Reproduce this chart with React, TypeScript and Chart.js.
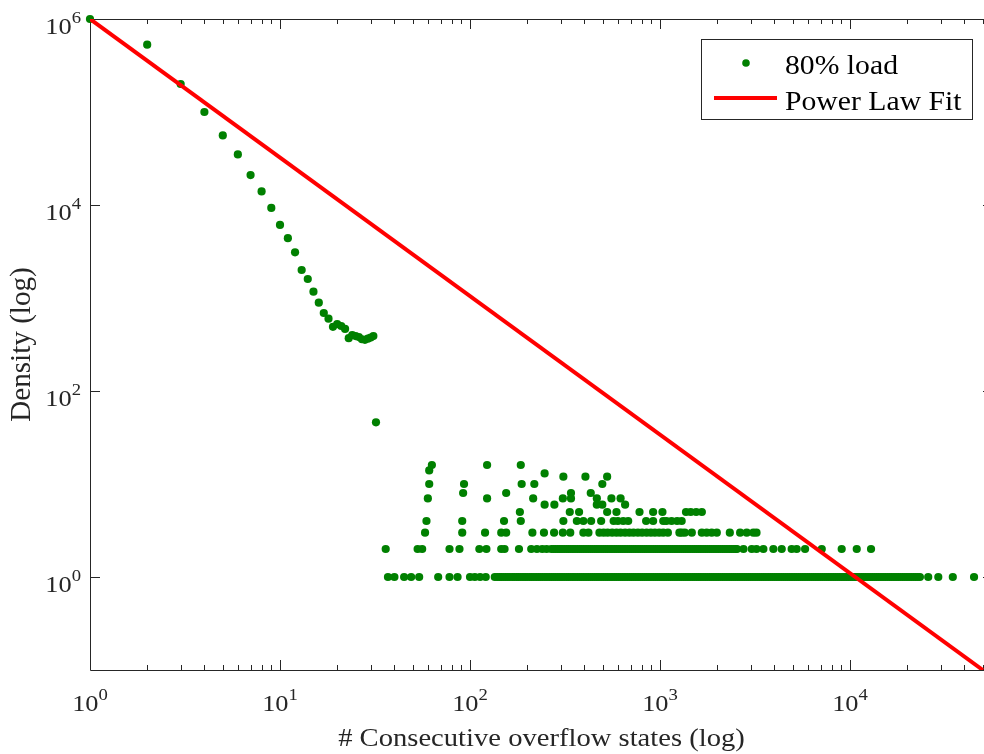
import React, { useEffect, useRef } from "react";
import { Chart, registerables } from "chart.js";

Chart.register(...registerables);

// ---- Data ----
const headRunLength = [1, 2, 3, 4, 5, 6, 7, 8, 9, 10, 11, 12, 13, 14, 15, 16, 17, 18, 19, 20, 21, 22, 23, 24, 25, 26, 27, 28, 29, 30, 31, 32];
const headDensity = [1e6, 5.3e5, 2.0e5, 1.0e5, 5.6e4, 3.5e4, 2.1e4, 1.4e4, 9.3e3, 6.1e3, 4.4e3, 3.1e3, 2.0e3, 1.6e3, 1170, 890, 690, 600, 490, 525, 500, 465, 370, 400, 390, 380, 360, 355, 365, 375, 390, 46];

// run lengths observed with density 1
const density1RunLength = [37, 40, 45, 49, 54, 68, 78, 86, 100, 106, 113, 121,
  135, 139, 143, 146, 150, 154, 158, 162, 167, 171, 176, 180, 185, 190, 195, 200, 206, 211, 217, 223, 229, 235, 241, 248, 254, 261, 268, 275, 282, 290, 297, 305, 313, 322, 330, 339, 348, 357, 367, 377, 387, 397,
  408, 419, 430, 441, 453, 465, 477, 490, 503, 517, 530, 545, 559, 574, 589, 605, 621, 637, 654, 672, 690, 708, 727, 746, 766, 787, 807, 829, 851, 874, 897, 921, 945, 970, 996,
  1023, 1050, 1078, 1107, 1136, 1166, 1197, 1229, 1262, 1296, 1330, 1365, 1402, 1439, 1478, 1517, 1557, 1599, 1641, 1685, 1730, 1776, 1824, 1872, 1922, 1973, 2025, 2079, 2135, 2191, 2250, 2310, 2371, 2434, 2499,
  2566, 2634, 2704, 2776, 2850, 2926, 3004, 3084, 3166, 3250, 3337, 3426, 3517, 3611, 3707, 3806, 3907, 4011, 4118, 4228, 4340, 4456, 4574, 4696, 4821, 4950, 5081, 5217, 5355, 5498, 5644, 5795, 5949, 6108, 6270,
  6437, 6608, 6784, 6965, 7150, 7340, 7536, 7736, 7942, 8154, 8371, 8594, 8823, 9057, 9298, 9546, 9800, 10061, 10329, 10604, 10886, 11176, 11473, 11779, 12093, 12415, 12745, 13085, 13433, 13791, 14158, 14535,
  14922, 15319, 15727, 16146, 16575, 17017, 17470, 17935, 18412, 18903, 19406, 19923, 20453, 20998, 21557, 22131, 22720, 23325, 25800, 29150, 34750, 44950];
// density 2
const density2RunLength = [36, 53, 56, 78, 88, 112, 122, 146, 152, 181, 210, 225, 240, 253,
  268, 275, 282, 290, 297, 305, 313, 322, 330, 339, 348, 357, 367, 377, 387, 397, 408, 419, 430, 441, 453, 465, 477, 490, 503, 517, 530, 545, 559, 574, 589, 605, 621, 637, 654, 672, 690, 708, 727, 746, 766, 787,
  807, 829, 851, 874, 897, 921, 945, 970, 996, 1023, 1050, 1078, 1107, 1136, 1166, 1197, 1229, 1262, 1296, 1330, 1365, 1402, 1439, 1478, 1517, 1557, 1599, 1641, 1685, 1730, 1776, 1824, 1872, 1922, 1973, 2025,
  2079, 2135, 2191, 2250, 2310, 2371, 2434, 2499, 2540,
  2750, 3040, 3220, 3500, 3950, 4370, 4930, 5240, 5800, 7100, 9040, 10850, 12900];
// density 3
const density3RunLength = [58, 91, 120, 146, 155, 213, 245, 277, 308, 337, 395, 420, 480, 505, 530, 560, 590, 620, 655, 690, 725, 765, 805, 850, 895, 940, 990, 1040, 1100, 1265, 1300, 1350, 1470, 1660, 1760, 1870, 1990, 2330, 2640, 2860, 3100, 3220];
const density4RunLength = [59, 91, 151, 185, 310, 365, 395, 434, 490, 570, 600, 640, 680, 845, 920, 1040, 1080, 1150, 1230, 1300];
const density5RunLength = [183, 335, 375, 527, 590, 780, 920, 1030, 1370, 1450, 1550, 1660];
const density6RunLength = [247, 278, 465, 497, 655];
const density7RunLength = [60, 123, 215, 308, 340, 465, 555, 620];
const density8RunLength = [92, 155, 340, 432];
const density10RunLength = [61, 93, 187, 218, 497];
const density12RunLength = [310, 405, 527];
const density13RunLength = [247];
const density14RunLength = [61];
const density16RunLength = [63, 123, 185];

const tailLevels = [1, 2, 3, 4, 5, 6, 7, 8, 10, 12, 13, 14, 16];
const tailRunLengths = [density1RunLength, density2RunLength, density3RunLength, density4RunLength, density5RunLength, density6RunLength, density7RunLength, density8RunLength, density10RunLength, density12RunLength, density13RunLength, density14RunLength, density16RunLength];

// power-law fit line end points
const fitRunLength = [1, 50000];
const fitDensity = [1e6, 0.1];

const seriesLabels = ["80% load", "Power Law Fit"];
const xAxisTitle = "# Consecutive overflow states (log)";
const yAxisTitle = "Density (log)";

const xMajorTicks = [1, 10, 100, 1000, 10000];
const xMajorExponents = ["0", "1", "2", "3", "4"];
const yMajorTicks = [1, 100, 1e4, 1e6];
const yMajorExponents = ["0", "2", "4", "6"];
const minorMultipliers = [2, 3, 4, 5, 6, 7, 8, 9];

const X_MIN = 1;
const X_MAX = 56560;
const Y_MIN = 0.1;
const Y_MAX = 1e6;

const GREEN = "#008000";
const RED = "#ff0000";
const AXIS = "#262626";
const FONT = '"Liberation Serif", "Times New Roman", serif';
const SX = 1.1; // horizontal stretch of text in reference

function drawText(ctx: CanvasRenderingContext2D, text: string, x: number, y: number, size: number, align: "left" | "center" | "right", color = AXIS) {
  ctx.save();
  ctx.font = `${size}px ${FONT}`;
  const w = ctx.measureText(text).width * SX;
  const x0 = align === "left" ? x : align === "center" ? x - w / 2 : x - w;
  ctx.translate(x0, y);
  ctx.scale(SX, 1);
  ctx.fillStyle = color;
  ctx.textAlign = "left";
  ctx.textBaseline = "alphabetic";
  ctx.fillText(text, 0, 0);
  ctx.restore();
  return w;
}

function measure(ctx: CanvasRenderingContext2D, text: string, size: number) {
  ctx.save();
  ctx.font = `${size}px ${FONT}`;
  const w = ctx.measureText(text).width * SX;
  ctx.restore();
  return w;
}

const MAIN = 24;
const SUP = 17;
const RAISE = 11;

function drawPow(ctx: CanvasRenderingContext2D, exp: string, x: number, baseline: number, align: "center" | "right") {
  const w1 = measure(ctx, "10", MAIN);
  const w2 = measure(ctx, exp, SUP);
  const total = w1 + w2;
  const x0 = align === "center" ? x - total / 2 : x - total;
  drawText(ctx, "10", x0, baseline, MAIN, "left");
  drawText(ctx, exp, x0 + w1, baseline - RAISE, SUP, "left");
}

const matlabAxes = {
  id: "matlabAxes",
  beforeDatasetsDraw(chart: any) {
    const { ctx, chartArea } = chart;
    const xs = chart.scales.x;
    const ys = chart.scales.y;
    const { left, right, top, bottom } = chartArea;
    ctx.save();
    ctx.strokeStyle = AXIS;
    ctx.lineWidth = 1;
    ctx.beginPath();
    ctx.rect(Math.round(left) + 0.5, Math.round(top) + 0.5, Math.round(right - left), Math.round(bottom - top));
    ctx.stroke();
    // x ticks (bottom & top, inward)
    const xTicks: [number, number][] = [];
    xMajorTicks.forEach((v) => xTicks.push([v, 10]));
    xMajorTicks.forEach((d) => minorMultipliers.forEach((m) => { if (d * m <= X_MAX) xTicks.push([d * m, 5]); }));
    ctx.beginPath();
    xTicks.forEach(([v, len]) => {
      const px = Math.round(xs.getPixelForValue(v)) + 0.5;
      ctx.moveTo(px, bottom);
      ctx.lineTo(px, bottom - len);
      ctx.moveTo(px, top);
      ctx.lineTo(px, top + len);
    });
    yMajorTicks.forEach((v) => {
      const py = Math.round(ys.getPixelForValue(v)) + 0.5;
      ctx.moveTo(left, py);
      ctx.lineTo(left + 10, py);
      ctx.moveTo(right, py);
      ctx.lineTo(right - 10, py);
    });
    ctx.stroke();
    ctx.restore();
  },
  afterDraw(chart: any) {
    const { ctx, chartArea } = chart;
    const xs = chart.scales.x;
    const ys = chart.scales.y;
    const { left, right, top, bottom } = chartArea;
    ctx.save();
    xMajorTicks.forEach((v, i) => drawPow(ctx, xMajorExponents[i], xs.getPixelForValue(v), bottom + 41, "center"));
    yMajorTicks.forEach((v, i) => drawPow(ctx, yMajorExponents[i], left - 9, ys.getPixelForValue(v) + 15, "right"));
    // axis titles
    drawText(ctx, xAxisTitle, (left + right) / 2, 746, 26, "center");
    ctx.save();
    ctx.translate(30, (top + bottom) / 2);
    ctx.scale(SX, 1);
    ctx.rotate(-Math.PI / 2);
    ctx.scale(1.12, 1);
    ctx.font = `26px ${FONT}`;
    ctx.fillStyle = AXIS;
    ctx.textAlign = "center";
    ctx.textBaseline = "alphabetic";
    ctx.fillText(yAxisTitle, 0, 0);
    ctx.restore();

    // legend
    const bx = 701, by = 39, bw = 271, bh = 80;
    ctx.fillStyle = "#ffffff";
    ctx.fillRect(bx, by, bw, bh);
    ctx.strokeStyle = AXIS;
    ctx.lineWidth = 1;
    ctx.strokeRect(bx + 0.5, by + 0.5, bw, bh);
    const ds0 = chart.data.datasets[0];
    const ds1 = chart.data.datasets[1];
    ctx.fillStyle = ds0.backgroundColor;
    ctx.beginPath();
    ctx.arc(746, 63, 3.8, 0, Math.PI * 2);
    ctx.fill();
    drawText(ctx, ds0.label, 785, 74, 27, "left", "#000000");
    ctx.strokeStyle = ds1.borderColor;
    ctx.lineWidth = 4;
    ctx.beginPath();
    ctx.moveTo(714, 98);
    ctx.lineTo(777, 98);
    ctx.stroke();
    drawText(ctx, ds1.label, 785, 110, 27, "left", "#000000");
    ctx.restore();
  },
};

export default function App() {
  const ref = useRef<HTMLCanvasElement | null>(null);
  useEffect(() => {
    document.body.style.margin = "0";
    const canvas = ref.current;
    if (!canvas) return;
    const points: { x: number; y: number }[] = headRunLength.map((x, i) => ({ x, y: headDensity[i] }));
    tailLevels.forEach((lvl, i) => tailRunLengths[i].forEach((x) => points.push({ x, y: lvl })));
    const fit = fitRunLength.map((x, i) => ({ x, y: fitDensity[i] }));
    const chart = new Chart(canvas, {
      type: "scatter",
      data: {
        datasets: [
          {
            label: seriesLabels[0],
            data: points,
            backgroundColor: GREEN,
            borderWidth: 0,
            pointRadius: 4.1,
            pointHoverRadius: 4.1,
            clip: false as any,
            order: 1,
          },
          {
            label: seriesLabels[1],
            data: fit,
            showLine: true,
            borderColor: RED,
            backgroundColor: RED,
            borderWidth: 4,
            pointRadius: 0,
            order: 0,
          } as any,
        ],
      },
      options: {
        animation: false,
        responsive: false,
        devicePixelRatio: 1,
        layout: { padding: { left: 90, top: 19, right: 10, bottom: 84 } },
        plugins: { legend: { display: false }, tooltip: { enabled: false } },
        events: [],
        scales: {
          x: { type: "logarithmic", min: X_MIN, max: X_MAX, display: false },
          y: { type: "logarithmic", min: Y_MIN, max: Y_MAX, display: false },
        },
      },
      plugins: [matlabAxes],
    });
    return () => chart.destroy();
  }, []);
  return (
    <div style={{ width: 984, height: 754, overflow: "hidden", position: "relative", background: "#fff" }}>
      <canvas ref={ref} width={1003} height={754} style={{ display: "block" }} />
    </div>
  );
}
